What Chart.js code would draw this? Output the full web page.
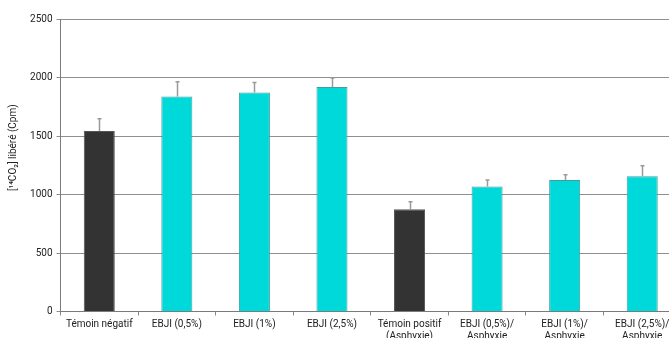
<!DOCTYPE html>
<html>
<head>
<meta charset="utf-8">
<script src="https://cdn.jsdelivr.net/npm/chart.js@4/dist/chart.umd.min.js"></script>
<style>
  html, body { margin: 0; padding: 0; background: #fff; overflow: hidden; }
  #wrap { position: relative; width: 681px; height: 338px; }
</style>
</head>
<body>
<div id="wrap"><canvas id="c" width="681" height="338"></canvas></div>
<script>
// Categories (multi-line labels)
const categories = [
  ['Témoin négatif'],
  ['EBJI (0,5%)'],
  ['EBJI (1%)'],
  ['EBJI (2,5%)'],
  ['Témoin positif', '(Asphyxie)'],
  ['EBJI (0,5%)/', 'Asphyxie'],
  ['EBJI (1%)/', 'Asphyxie'],
  ['EBJI (2,5%)/', 'Asphyxie']
];
// Released 14CO2 (cpm) and standard errors
const values = [1543, 1838, 1872, 1918, 873, 1069, 1123, 1157];
const errors = [105, 125, 85, 77, 66, 54, 46, 88];
const controlFlags = [true, false, false, false, true, false, false, false];
const yTicks = [0, 500, 1000, 1500, 2000, 2500];
const yTitle = '[¹⁴CO₂] libéré (Cpm)';

const DARK = '#333333';
const CYAN = '#00d9d9';

// Upward error whiskers drawn through the chart scales
const errorBars = {
  id: 'errorBars',
  afterDatasetsDraw(chart) {
    const ctx = chart.ctx;
    const meta = chart.getDatasetMeta(0);
    const y = chart.scales.y;
    ctx.save();
    ctx.strokeStyle = '#9a9a9a';
    ctx.lineWidth = 1.5;
    meta.data.forEach((bar, i) => {
      const x = Math.round(bar.x) + 0.5;
      const yTop = y.getPixelForValue(values[i] + errors[i]);
      const yBar = y.getPixelForValue(values[i]);
      ctx.beginPath();
      ctx.moveTo(x, yBar);
      ctx.lineTo(x, yTop);
      ctx.moveTo(x - 2, yTop);
      ctx.lineTo(x + 2, yTop);
      ctx.stroke();
    });
    ctx.restore();
  }
};

// Rotated y-axis caption, sitting a little above the axis middle
const axisCaption = {
  id: 'axisCaption',
  afterDraw(chart) {
    const ctx = chart.ctx;
    const area = chart.chartArea;
    ctx.save();
    ctx.translate(13, area.top + (area.bottom - area.top) * 0.44);
    ctx.rotate(-Math.PI / 2);
    ctx.fillStyle = '#222';
    ctx.font = '10px Roboto';
    ctx.textAlign = 'center';
    ctx.textBaseline = 'middle';
    ctx.fillText(yTitle, 0, 0);
    ctx.restore();
  }
};

new Chart(document.getElementById('c'), {
  type: 'bar',
  data: {
    labels: categories,
    datasets: [{
      data: values,
      backgroundColor: controlFlags.map(c => c ? DARK : CYAN),
      borderColor: controlFlags.map(c => c ? '#555555' : '#3f9f9f'),
      borderWidth: 1,
      categoryPercentage: 1,
      barPercentage: 0.4
    }]
  },
  options: {
    responsive: false,
    animation: false,
    layout: { padding: { top: 19, right: 0, left: 0, bottom: 0 } },
    plugins: { legend: { display: false }, tooltip: { enabled: false } },
    scales: {
      x: {
        offset: true,
        grid: {
          display: true,
          offset: true,
          drawOnChartArea: false,
          drawTicks: true,
          tickLength: 4,
          color: '#8a8a8a'
        },
        border: { display: true, color: '#7a7a7a', width: 1 },
        ticks: {
          color: '#222',
          font: { family: 'Roboto', size: 10 },
          padding: 3,
          maxRotation: 0,
          autoSkip: false
        },
        afterFit(scale) { scale.height = 26.5; }
      },
      y: {
        min: 0,
        max: 2500,
        afterBuildTicks(scale) { scale.ticks = yTicks.map(v => ({ value: v })); },
        grid: {
          color: '#8f8f8f',
          lineWidth: 1,
          drawTicks: true,
          tickLength: 4
        },
        border: { display: true, color: '#7a7a7a', width: 1 },
        ticks: {
          color: '#222',
          font: { family: 'Roboto', size: 10 },
          padding: 4,
          callback: v => String(v)
        },
        afterFit(scale) { scale.width = 60.5; }
      }
    }
  },
  plugins: [errorBars, axisCaption]
});
</script>
</body>
</html>
